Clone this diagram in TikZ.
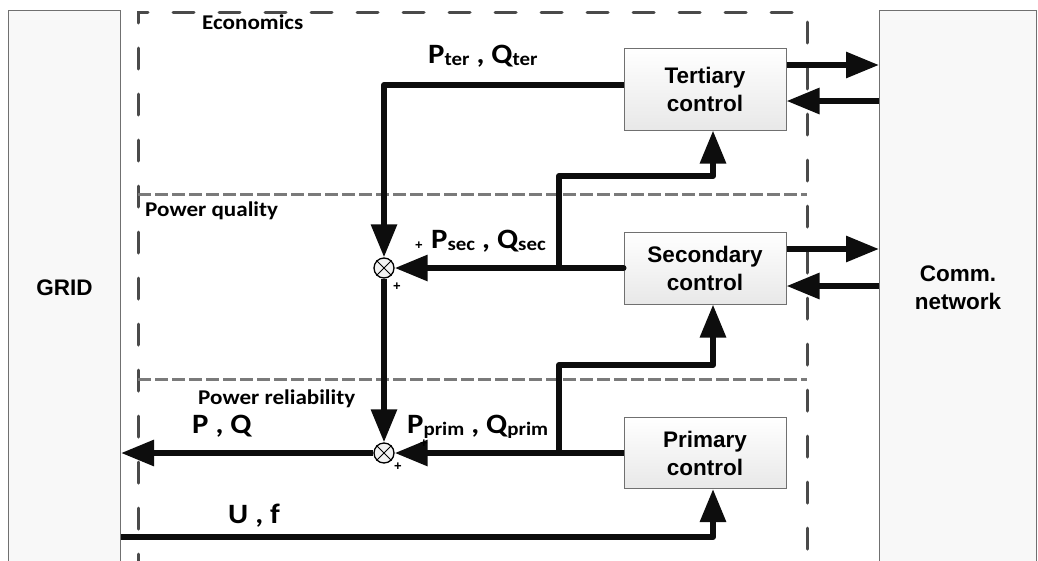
\documentclass[tikz,border=0pt]{standalone}
\usepackage{fontspec}
\setmainfont{Liberation Sans}
\newfontfamily\calfont[FakeStretch=1.1]{Carlito}
\usetikzlibrary{arrows.meta}
\definecolor{conncol}{HTML}{0D0D0D}
\definecolor{boxline}{HTML}{707070}
\definecolor{sidefill}{HTML}{F8F8F8}
\definecolor{dashcol}{HTML}{4A4A4A}
\definecolor{innerdashcol}{HTML}{7A7A7A}
\newcommand\psb[2]{#1\raisebox{-2pt}{\fontsize{19}{19}\selectfont #2}}
\begin{document}
\begin{tikzpicture}[x=1pt,y=-1pt,
  conn/.style={line width=6pt, draw=conncol, line join=round},
  tip/.style={-{Triangle[length=33pt,width=25pt]}},
  sidebox/.style={draw=boxline, line width=1pt, fill=sidefill, anchor=north west,
    font=\bfseries\fontsize{22.5}{28}\selectfont, align=center},
  ctrl/.style={draw=boxline, line width=1pt, top color=white, bottom color={black!9},
    minimum width=162pt, font=\bfseries\fontsize{22.5}{28}\selectfont, align=center, inner sep=0pt},
  sumj/.style={circle, draw=black, line width=1.3pt, fill=black!5, minimum size=20pt, inner sep=0pt},
  lab/.style={font=\calfont\bfseries\fontsize{28}{28}\selectfont, anchor=base west, inner sep=0pt},
  sec/.style={font=\calfont\bfseries\fontsize{21}{21}\selectfont, anchor=base west, inner sep=0pt},
  plus/.style={font=\bfseries\fontsize{13}{13}\selectfont, inner sep=0pt},
  outerdash/.style={draw=dashcol, line width=3pt, dash pattern=on 21pt off 25pt, line cap=round},
  innerdash/.style={draw=innerdashcol, line width=3pt, dash pattern=on 13pt off 4pt}
]
\useasboundingbox[fill=white] (0,0) rectangle (1038,560);

% side boxes
\node[sidebox, minimum width=112pt, minimum height=554pt] (grid) at (8,10) {GRID};
\node[sidebox, minimum width=157pt, minimum height=554pt] (comm) at (879,10) {Comm.\\network};

% dashed frame
\draw[outerdash] (138,575) -- (138,12) -- (807,12) -- (807,575);
\draw[innerdash] (138,194) -- (807,194);
\draw[innerdash] (138,379) -- (807,379);

% section labels
\node[sec] (econ) at (202,29) {Economics};
\node[sec] (pq) at (145,216) {Power quality};
\node[sec] (pr) at (198,404) {Power reliability};

% control boxes
\node[ctrl, minimum height=82pt] (ter) at (705,89) {Tertiary\\control};
\node[ctrl, minimum height=72pt] (secc) at (705,268) {Secondary\\control};
\node[ctrl, minimum height=71pt] (prim) at (705,453) {Primary\\control};

% summing junctions
\node[sumj] (s1) at (384,268) {};
\node[sumj] (s2) at (384,453) {};
\foreach \s in {s1,s2}{
  \draw[line width=0.9pt] (\s.north west) -- (\s.south east);
  \draw[line width=0.9pt] (\s.north east) -- (\s.south west);
}

% coordinates
\coordinate (b1) at (559,268);
\coordinate (k1) at (713,176);
\coordinate (b2) at (559,453);
\coordinate (k2) at (713,365);
\coordinate (k3) at (713,537);
\coordinate (r1) at (0,65);
\coordinate (r2) at (0,101);
\coordinate (r3) at (0,249);
\coordinate (r4) at (0,286);

% main signal paths
\draw[conn,tip] ([yshift=4pt]ter.west) -| (s1.north);
\draw[conn,tip,line cap=round] (secc.west) -- (s1.east);
\draw[conn,tip] (s1.south) -- (s2.north);
\draw[conn,tip] (prim.west) -- (s2.east);
\draw[conn,tip] (s2.west) -- (grid.east |- s2);

% feedback branches
\draw[conn,tip] (b1) |- (k1) -- (k1 |- ter.south);
\draw[conn,tip] (b2) |- (k2) -- (k2 |- secc.south);
\draw[conn,tip] (grid.east |- k3) -- (k3) -- (k3 |- prim.south);

% communication arrows
\draw[conn,tip] (ter.east |- r1) -- (comm.west |- r1);
\draw[conn,tip] (comm.west |- r2) -- (ter.east |- r2);
\draw[conn,tip] (secc.east |- r3) -- (comm.west |- r3);
\draw[conn,tip] (comm.west |- r4) -- (secc.east |- r4);

% signal labels
\node[lab] (lter) at (428,63) {\psb{P}{ter} , \psb{Q}{ter}};
\node[lab] (lsec) at (431,248) {\psb{P}{sec} , \psb{Q}{sec}};
\node[lab] (lprim) at (407,433) {\psb{P}{prim} , \psb{Q}{prim}};
\node[lab] (lpq) at (192,433) {P , Q};
\node[lab] (luf) at (228,523) {U , f};

% signs
\node[plus] (p1) at (419,246) {+};
\node[plus] (p2) at (397,287) {+};
\node[plus] (p3) at (424,444) {+};
\node[plus] (p4) at (398,467) {+};
\end{tikzpicture}
\end{document}
